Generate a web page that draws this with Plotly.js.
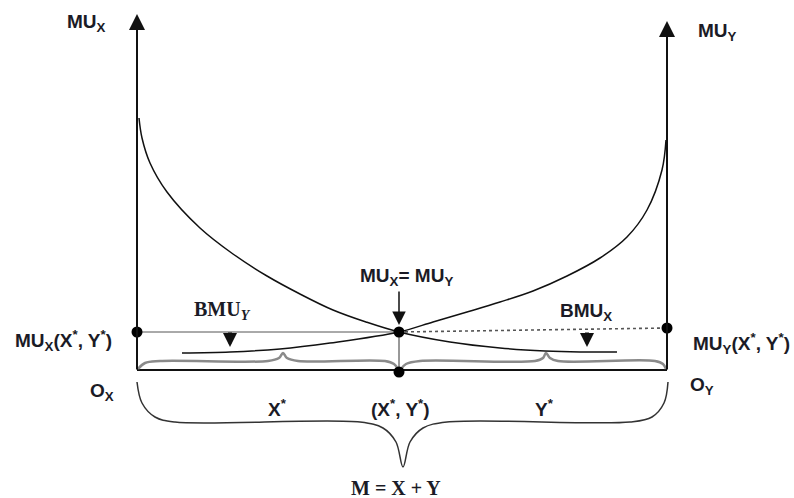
<!DOCTYPE html>
<html>
<head>
<meta charset="utf-8">
<script src="https://cdn.plot.ly/plotly-3.0.1.min.js"></script>
<style>html,body{margin:0;padding:0;background:#fff;}#chart{width:794px;height:498px;}</style>
</head>
<body>
<div id="chart"></div>
<script>
// Coordinates are diagram units, y grows downward.
const muxCurveX = [139, 142, 150, 167, 200, 233, 267, 300, 333, 366, 399, 450, 500, 545, 580, 617];
const muxCurveY = [118, 138, 163, 192, 228, 254, 276, 294, 310, 322, 332, 342, 348, 351, 352, 352];
const muyCurveX = [666, 662, 647, 627, 600, 567, 533, 500, 467, 433, 399, 330, 280, 230, 182];
const muyCurveY = [140, 170, 210, 237, 258, 276, 291, 302, 312, 322, 332, 343, 349, 352, 353];
const budgetLineX = [137, 399];
const budgetLineY = [332, 332];
const dottedLineX = [399, 667];
const dottedLineY = [332, 328];
const dropLineX = [399, 399];
const dropLineY = [332, 372];
const baseAxisX = [137, 667];
const baseAxisY = [370, 370];
const braceLeftX = [138, 145, 160, 268, 279, 283, 287, 298, 385, 394, 398];
const braceLeftY = [369, 363, 361, 361, 358, 353, 358, 361, 361, 364, 369];
const braceRightX = [401, 406, 420, 535, 543, 546, 550, 558, 655, 663, 666];
const braceRightY = [369, 364, 361, 361, 358, 353, 358, 361, 361, 364, 369];
const braceBigX = [137, 142, 155, 175, 360, 383, 396, 403, 410, 423, 447, 630, 652, 664, 668];
const braceBigY = [382, 403, 417, 422, 422, 428, 442, 467, 442, 428, 422, 422, 417, 403, 382];
const pointX = [137, 399, 667, 399];
const pointY = [332, 332, 328, 372];

const labelTexts = [
  'MU<sub>X</sub>', 'MU<sub>Y</sub>', 'MU<sub>X</sub>= MU<sub>Y</sub>',
  'BMU<sub><i>Y</i></sub>', 'BMU<sub>X</sub>',
  'MU<sub>X</sub>(X<sup>*</sup>, Y<sup>*</sup>)', 'MU<sub>Y</sub>(X<sup>*</sup>, Y<sup>*</sup>)',
  'O<sub>X</sub>', 'O<sub>Y</sub>', 'X<sup>*</sup>', '(X<sup>*</sup>, Y<sup>*</sup>)', 'Y<sup>*</sup>',
  'M = X + Y'
];

const ink = '#1b1b26';
function line(x, y, color, width, dash, shape) {
  return {x: x, y: y, type: 'scatter', mode: 'lines', hoverinfo: 'skip',
    line: {color: color, width: width, dash: dash || 'solid', shape: shape || 'linear', smoothing: 1}};
}
const traces = [
  line(budgetLineX, budgetLineY, '#555', 1),
  line(dottedLineX, dottedLineY, '#555', 1.6, 'dot'),
  line(dropLineX, dropLineY, '#333', 1),
  line(baseAxisX, baseAxisY, '#111', 2),
  line(braceLeftX, braceLeftY, '#8a8a8a', 2.5, 'solid', 'spline'),
  line(braceRightX, braceRightY, '#8a8a8a', 2.5, 'solid', 'spline'),
  line(braceBigX, braceBigY, '#333', 1.5, 'solid', 'spline'),
  line(muxCurveX, muxCurveY, '#111', 1.5, 'solid', 'spline'),
  line(muyCurveX, muyCurveY, '#111', 1.5, 'solid', 'spline'),
  {x: pointX, y: pointY, type: 'scatter', mode: 'markers', hoverinfo: 'skip',
   marker: {color: '#000', size: 11}}
];

const sans = {family: 'Liberation Sans, Arial, sans-serif', size: 19, color: ink, weight: 'bold'};
const serif = {family: 'Liberation Serif, Times New Roman, serif', size: 20, color: ink, weight: 'bold'};
function lab(i, x, y, font) {
  return {text: labelTexts[i], x: x, y: y, xref: 'x', yref: 'y', showarrow: false,
    xanchor: 'center', yanchor: 'middle', font: font || sans};
}
function arrow(x, y, ax, ay, w, size) {
  return {text: '', x: x, y: y, ax: ax, ay: ay, xref: 'x', yref: 'y', axref: 'x', ayref: 'y',
    showarrow: true, arrowhead: 2, arrowwidth: w, arrowsize: size, arrowcolor: '#111', standoff: 0, startstandoff: 0};
}
const annotations = [
  arrow(137, 14, 137, 371, 2, 1.6),
  arrow(667, 21, 667, 371, 2, 1.6),
  arrow(399, 325, 399, 290, 1.5, 1.8),
  arrow(230, 347, 230, 331, 4, 0.7),
  arrow(587, 347, 587, 331, 4, 0.7),
  lab(0, 86, 23),
  lab(1, 717, 32),
  lab(2, 406, 277),
  lab(3, 222, 310, serif),
  lab(4, 586, 312),
  lab(5, 63, 340),
  lab(6, 741, 343),
  lab(7, 102, 392),
  lab(8, 702, 386),
  lab(9, 277, 408),
  lab(10, 400, 408),
  lab(11, 544, 408),
  lab(12, 396, 488, serif)
];

const layout = {
  width: 794, height: 498,
  margin: {l: 0, r: 0, t: 0, b: 0},
  paper_bgcolor: '#fff', plot_bgcolor: '#fff',
  showlegend: false,
  xaxis: {range: [0, 794], visible: false, fixedrange: true},
  yaxis: {range: [498, 0], visible: false, fixedrange: true},
  annotations: annotations
};
Plotly.newPlot('chart', traces, layout, {staticPlot: true, displayModeBar: false});
</script>
</body>
</html>
